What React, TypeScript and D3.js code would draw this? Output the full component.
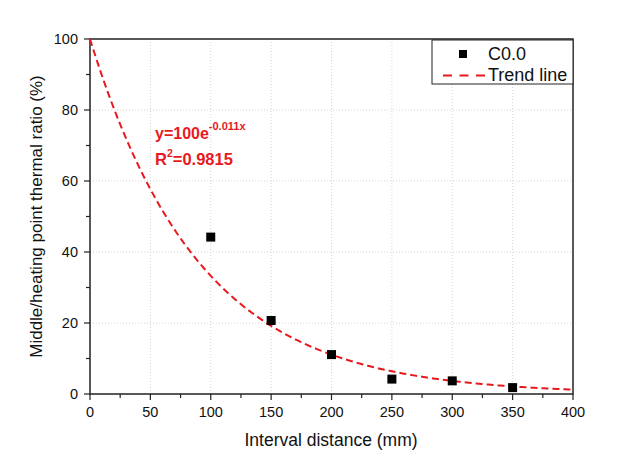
import React from "react";
import * as d3 from "d3";

const xs = [100, 150, 200, 250, 300, 350];
const ys = [44.2, 20.7, 11.1, 4.2, 3.7, 1.8];
const xTicks = [0, 50, 100, 150, 200, 250, 300, 350, 400];
const yTicks = [0, 20, 40, 60, 80, 100];
const xMinor = [25, 75, 125, 175, 225, 275, 325, 375];
const yMinor = [10, 30, 50, 70, 90];
const fitA = 100;
const fitB = -0.011;

export default function App() {
  const W = 621, H = 464;
  const left = 90, right = 573, top = 39, bottom = 394;
  const x = d3.scaleLinear().domain([0, 400]).range([left, right]);
  const y = d3.scaleLinear().domain([0, 100]).range([bottom, top]);
  const red = "#e8191e";
  const font = "'Liberation Sans', Arial, sans-serif";
  const trend = d3.range(0, 401, 2).map((v) => [v, fitA * Math.exp(fitB * v)] as [number, number]);
  const line = d3.line<[number, number]>().x((d) => x(d[0])).y((d) => y(d[1]));
  return (
    <svg width={W} height={H} style={{ position: "absolute", left: 0, top: 0, background: "#fff" }} fontFamily={font}>
      <rect width={W} height={H} fill="#fff" />
      {xTicks.slice(1, -1).map((t) => (
        <line key={"gx" + t} x1={x(t)} x2={x(t)} y1={top} y2={bottom} stroke="#d4d4d4" strokeWidth={1} strokeDasharray="1,2" />
      ))}
      {yTicks.slice(1, -1).map((t) => (
        <line key={"gy" + t} x1={left} x2={right} y1={y(t)} y2={y(t)} stroke="#d4d4d4" strokeWidth={1} strokeDasharray="1,2" />
      ))}
      <rect x={left} y={top} width={right - left} height={bottom - top} fill="none" stroke="#222" strokeWidth={1.5} />
      {xTicks.map((t) => (
        <g key={"xt" + t}>
          <line x1={x(t)} x2={x(t)} y1={bottom} y2={bottom + 6} stroke="#222" strokeWidth={1.2} />
          <text x={x(t)} y={bottom + 23} fontSize={14.5} textAnchor="middle" fill="#111">{t}</text>
        </g>
      ))}
      {xMinor.map((t) => (
        <line key={"xm" + t} x1={x(t)} x2={x(t)} y1={bottom} y2={bottom + 4} stroke="#222" strokeWidth={1.2} />
      ))}
      {yTicks.map((t) => (
        <g key={"yt" + t}>
          <line x1={left - 6} x2={left} y1={y(t)} y2={y(t)} stroke="#222" strokeWidth={1.2} />
          <text x={left - 12} y={y(t) + 5} fontSize={14.5} textAnchor="end" fill="#111">{t}</text>
        </g>
      ))}
      {yMinor.map((t) => (
        <line key={"ym" + t} x1={left - 4} x2={left} y1={y(t)} y2={y(t)} stroke="#222" strokeWidth={1.2} />
      ))}
      <path d={line(trend) || ""} fill="none" stroke={red} strokeWidth={2} strokeDasharray="7,4" />
      {xs.map((v, i) => (
        <rect key={"p" + i} x={x(v) - 4.5} y={y(ys[i]) - 4.5} width={9} height={9} fill="#000" />
      ))}
      <text x={331} y={446} fontSize={17.5} textAnchor="middle" fill="#111">Interval distance (mm)</text>
      <text transform={`translate(42,${(top + bottom) / 2}) rotate(-90)`} fontSize={17} textAnchor="middle" fill="#111">
        Middle/heating point thermal ratio (%)
      </text>
      <text x={155} y={139} fontSize={16} fontWeight="bold" fill={red}>
        y=100e<tspan dy={-9} fontSize={11}>-0.011x</tspan>
      </text>
      <text x={155} y={165} fontSize={16.5} fontWeight="bold" fill={red}>
        R<tspan dy={-8} fontSize={10.5}>2</tspan><tspan dy={8}>=0.9815</tspan>
      </text>
      <rect x={432} y={40} width={141} height={44} fill="#fff" stroke="#222" strokeWidth={1} />
      <rect x={459} y={50} width={8} height={8} fill="#000" />
      <text x={488} y={60} fontSize={18} fill="#111">C0.0</text>
      <line x1={443} x2={485} y1={75.5} y2={75.5} stroke={red} strokeWidth={2} strokeDasharray="9,7.5" />
      <text x={488} y={81} fontSize={18} fill="#111">Trend line</text>
    </svg>
  );
}
